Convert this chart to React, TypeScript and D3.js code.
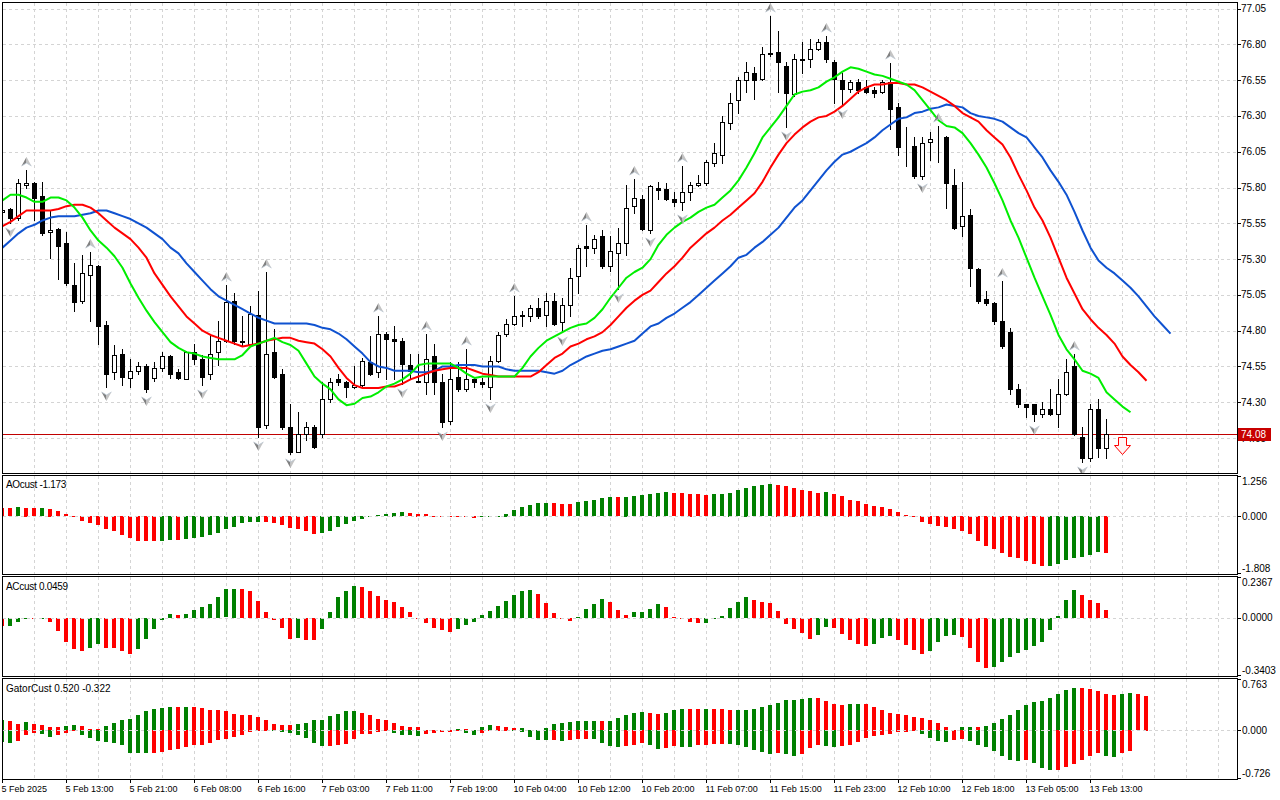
import React from 'react';
import * as d3 from 'd3';

// ---- price data (hourly bars) ----
const opens = [
  75.63, 75.65, 75.59, 75.82, 75.83, 75.74, 75.49, 75.51, 75.41, 75.12,
  75.01, 75.19, 75.25, 74.84, 74.51, 74.64, 74.47, 74.52, 74.55, 74.47,
  74.54, 74.62, 74.51, 74.46, 74.65, 74.60, 74.50, 74.65, 74.73, 75.01,
  74.72, 74.71, 74.91, 74.14, 74.65, 74.50, 74.13, 73.95, 74.08, 74.13,
  74.08, 74.32, 74.46, 74.44, 74.41, 74.42, 74.58, 74.51, 74.78, 74.74,
  74.73, 74.56, 74.45, 74.44, 74.62, 74.44, 74.17, 74.48, 74.39, 74.46,
  74.44, 74.41, 74.59, 74.78, 74.85, 74.90, 74.90, 74.96, 74.91, 75.01,
  74.86, 74.98, 75.18, 75.39, 75.38, 75.46, 75.25, 75.34, 75.41, 75.67,
  75.72, 75.50, 75.80, 75.79, 75.72, 75.70, 75.77, 75.82, 75.83, 75.97,
  76.03, 76.25, 76.41, 76.55, 76.60, 76.56, 76.73, 76.75, 76.65, 76.45,
  76.70, 76.70, 76.77, 76.82, 76.68, 76.55, 76.49, 76.54, 76.50, 76.48,
  76.47, 76.54, 76.36, 76.09, 76.09, 75.88, 76.12, 76.14, 76.15, 75.82,
  75.53, 75.61, 75.23, 75.02, 74.99, 74.87, 74.79, 74.39, 74.29, 74.29,
  74.22, 74.25, 74.22, 74.36, 74.55, 74.06, 73.91, 74.25, 73.98,
];
const highs = [
  75.68, 75.66, 75.86, 75.92, 75.84, 75.84, 75.64, 75.52, 75.49, 75.27,
  75.33, 75.35, 75.26, 74.87, 74.70, 74.67, 74.60, 74.58, 74.57, 74.58,
  74.65, 74.63, 74.53, 74.66, 74.71, 74.63, 74.77, 74.87, 75.12, 75.06,
  74.90, 74.97, 75.08, 75.21, 74.81, 74.53, 74.29, 74.23, 74.16, 74.14,
  74.44, 74.47, 74.50, 74.45, 74.55, 74.61, 74.76, 74.90, 74.79, 74.83,
  74.75, 74.64, 74.64, 74.78, 74.71, 74.50, 74.58, 74.58, 74.67, 74.48,
  74.47, 74.62, 74.79, 74.88, 75.04, 74.94, 74.98, 75.03, 75.06, 75.06,
  75.03, 75.24, 75.40, 75.54, 75.47, 75.50, 75.46, 75.52, 75.82, 75.86,
  75.75, 75.82, 75.84, 75.83, 75.77, 75.95, 75.84, 75.89, 75.99, 76.11,
  76.30, 76.46, 76.57, 76.68, 76.64, 76.78, 77.00, 76.89, 76.68, 76.73,
  76.82, 76.84, 76.84, 76.86, 76.69, 76.60, 76.55, 76.56, 76.55, 76.50,
  76.55, 76.67, 76.39, 76.22, 76.15, 76.15, 76.19, 76.23, 76.16, 75.93,
  75.84, 75.65, 75.24, 75.08, 75.00, 75.15, 74.82, 74.43, 74.29, 74.29,
  74.30, 74.39, 74.46, 74.60, 74.64, 74.13, 74.29, 74.32, 74.18,
];
const lows = [
  75.58, 75.55, 75.57, 75.80, 75.57, 75.47, 75.31, 75.16, 75.12, 74.94,
  74.99, 74.87, 74.71, 74.41, 74.46, 74.42, 74.41, 74.50, 74.37, 74.45,
  74.52, 74.47, 74.46, 74.46, 74.57, 74.42, 74.46, 74.56, 74.72, 74.71,
  74.70, 74.70, 74.06, 74.12, 74.47, 74.11, 73.94, 73.95, 74.04, 73.98,
  74.06, 74.30, 74.42, 74.34, 74.40, 74.41, 74.49, 74.48, 74.46, 74.46,
  74.43, 74.46, 74.44, 74.36, 74.36, 74.13, 74.15, 74.38, 74.38, 74.41,
  74.41, 74.32, 74.58, 74.76, 74.84, 74.83, 74.87, 74.89, 74.83, 74.84,
  74.79, 74.90, 75.06, 75.25, 75.34, 75.24, 75.22, 75.09, 75.33, 75.62,
  75.50, 75.48, 75.72, 75.71, 75.67, 75.64, 75.71, 75.81, 75.82, 75.95,
  75.97, 76.21, 76.32, 76.47, 76.42, 76.55, 76.72, 76.47, 76.22, 76.44,
  76.60, 76.64, 76.76, 76.68, 76.39, 76.38, 76.47, 76.46, 76.46, 76.43,
  76.46, 76.21, 76.03, 75.95, 75.87, 75.86, 75.99, 75.98, 75.66, 75.51,
  75.46, 75.11, 74.99, 74.98, 74.85, 74.68, 74.36, 74.27, 74.20, 74.17,
  74.20, 74.21, 74.13, 74.35, 74.07, 73.88, 73.89, 73.92, 73.91,
];
const closes = [
  75.64, 75.59, 75.83, 75.83, 75.73, 75.48, 75.50, 75.39, 75.13, 75.00,
  75.20, 75.26, 74.83, 74.50, 74.63, 74.48, 74.52, 74.55, 74.39, 74.54,
  74.62, 74.50, 74.47, 74.65, 74.60, 74.48, 74.64, 74.73, 75.00, 74.73,
  74.73, 74.92, 74.13, 74.64, 74.48, 74.13, 73.95, 74.08, 74.13, 73.99,
  74.32, 74.44, 74.44, 74.41, 74.42, 74.59, 74.50, 74.78, 74.74, 74.73,
  74.57, 74.52, 74.44, 74.60, 74.44, 74.16, 74.46, 74.39, 74.46, 74.44,
  74.43, 74.59, 74.77, 74.85, 74.90, 74.91, 74.96, 74.90, 75.01, 74.85,
  74.98, 75.17, 75.38, 75.38, 75.44, 75.25, 75.36, 75.41, 75.66, 75.73,
  75.51, 75.81, 75.78, 75.72, 75.70, 75.77, 75.82, 75.83, 75.98, 76.04,
  76.26, 76.39, 76.55, 76.61, 76.55, 76.73, 76.74, 76.68, 76.46, 76.70,
  76.69, 76.77, 76.82, 76.70, 76.56, 76.49, 76.54, 76.48, 76.47, 76.46,
  76.54, 76.35, 76.08, 76.09, 75.88, 76.11, 76.14, 76.14, 75.83, 75.52,
  75.60, 75.24, 75.01, 74.99, 74.87, 74.69, 74.39, 74.29, 74.27, 74.22,
  74.25, 74.22, 74.36, 74.51, 74.08, 73.91, 74.25, 73.98, 74.08,
];

// ---- alligator (already shifted forward as drawn) ----
const lips = [
  75.71, 75.75, 75.75, 75.73, 75.70, 75.70, 75.73, 75.73, 75.71, 75.66,
  75.59, 75.50, 75.43, 75.38, 75.32, 75.24, 75.13, 75.03, 74.94, 74.86,
  74.79, 74.72, 74.68, 74.65, 74.64, 74.62, 74.61, 74.60, 74.60, 74.60,
  74.63, 74.69, 74.71, 74.73, 74.75, 74.72, 74.70, 74.66, 74.57, 74.48,
  74.43, 74.39, 74.32, 74.28, 74.29, 74.33, 74.34, 74.37, 74.41, 74.43,
  74.46, 74.50, 74.56, 74.57, 74.57, 74.57, 74.57, 74.54, 74.50, 74.47,
  74.48, 74.48, 74.48, 74.48, 74.48, 74.54, 74.62, 74.68, 74.73, 74.76,
  74.79, 74.82, 74.84, 74.85, 74.89, 74.95, 75.03, 75.10, 75.17, 75.21,
  75.24, 75.30, 75.40, 75.47, 75.52, 75.56, 75.59, 75.63, 75.66, 75.68,
  75.73, 75.78, 75.85, 75.94, 76.04, 76.15, 76.22, 76.29, 76.37, 76.45,
  76.47, 76.48, 76.50, 76.54, 76.57, 76.61, 76.64, 76.63, 76.61, 76.59,
  76.58, 76.56, 76.54, 76.52, 76.48, 76.41, 76.34, 76.27, 76.23, 76.22,
  76.18, 76.11, 76.03, 75.94, 75.83, 75.71, 75.57, 75.45, 75.31, 75.17,
  75.04, 74.91, 74.77, 74.67, 74.60, 74.52, 74.50, 74.47, 74.37, 74.32,
  74.27, 74.23,
];
const teeth = [
  75.53, 75.56, 75.60, 75.64, 75.64, 75.64, 75.64, 75.65, 75.67, 75.68,
  75.68, 75.66, 75.62, 75.57, 75.52, 75.48, 75.44, 75.38, 75.31, 75.20,
  75.12, 75.04, 74.97, 74.90, 74.85, 74.80, 74.77, 74.75, 74.73, 74.71,
  74.69, 74.70, 74.71, 74.73, 74.74, 74.75, 74.75, 74.73, 74.72, 74.71,
  74.67, 74.62, 74.54, 74.47, 74.42, 74.40, 74.40, 74.40, 74.41, 74.41,
  74.43, 74.46, 74.48, 74.50, 74.52, 74.53, 74.54, 74.54, 74.54, 74.52,
  74.50, 74.49, 74.48, 74.48, 74.48, 74.48, 74.48, 74.51, 74.56, 74.61,
  74.64, 74.69, 74.71, 74.74, 74.76, 74.79, 74.84, 74.90, 74.96, 75.01,
  75.05, 75.08, 75.14, 75.20, 75.25, 75.31, 75.38, 75.43, 75.48, 75.52,
  75.57, 75.61, 75.66, 75.71, 75.76, 75.84, 75.94, 76.03, 76.11, 76.17,
  76.22, 76.26, 76.29, 76.30, 76.33, 76.37, 76.42, 76.47, 76.50, 76.52,
  76.52, 76.53, 76.53, 76.52, 76.52, 76.50, 76.47, 76.44, 76.41, 76.37,
  76.32, 76.29, 76.26, 76.20, 76.15, 76.10, 76.01, 75.89, 75.78, 75.66,
  75.57, 75.45, 75.31, 75.17, 75.06, 74.95, 74.88, 74.82, 74.77, 74.71,
  74.62, 74.56, 74.51, 74.45,
];
const jaw = [
  75.38, 75.43, 75.48, 75.52, 75.54, 75.57, 75.59, 75.60, 75.60, 75.60,
  75.61, 75.62, 75.64, 75.64, 75.62, 75.60, 75.58, 75.55, 75.52, 75.48,
  75.44, 75.38, 75.34, 75.27, 75.21, 75.15, 75.09, 75.04, 75.01, 74.98,
  74.95, 74.92, 74.89, 74.87, 74.85, 74.85, 74.85, 74.85, 74.85, 74.84,
  74.82, 74.81, 74.78, 74.74, 74.69, 74.64, 74.58, 74.55, 74.54, 74.52,
  74.52, 74.52, 74.51, 74.51, 74.52, 74.55, 74.55, 74.56, 74.56, 74.56,
  74.55, 74.55, 74.55, 74.53, 74.52, 74.52, 74.52, 74.52, 74.51, 74.50,
  74.52, 74.56, 74.59, 74.62, 74.64, 74.66, 74.67, 74.69, 74.71, 74.73,
  74.78, 74.83, 74.85, 74.89, 74.92, 74.96, 75.00, 75.05, 75.10, 75.15,
  75.20, 75.25, 75.31, 75.33, 75.38, 75.42, 75.47, 75.52, 75.59, 75.66,
  75.71, 75.78, 75.85, 75.92, 75.98, 76.03, 76.05, 76.08, 76.11, 76.15,
  76.20, 76.24, 76.28, 76.29, 76.32, 76.33, 76.35, 76.36, 76.38, 76.37,
  76.36, 76.32, 76.30, 76.29, 76.28, 76.26, 76.22, 76.18, 76.15, 76.08,
  76.01, 75.92, 75.84, 75.75, 75.63, 75.50, 75.38, 75.29, 75.24, 75.20,
  75.15, 75.10, 75.04, 74.97, 74.90, 74.84, 74.78,
];

const fractalUp = [3, 11, 28, 33, 47, 53, 58, 64, 73, 79, 85, 96, 103, 111, 117, 125, 134];
const fractalDown = [1, 13, 18, 25, 32, 36, 50, 55, 61, 70, 77, 81, 85, 98, 105, 115, 129, 135];

const lastPrice = 74.08;
const sellSignal = { bar: 140, price: 74.057 };

// ---- oscillators ----
const aoValues = [
  0.28, 0.27, 0.29, 0.28, 0.26, 0.27, 0.25, 0.16, 0.06, -0.04,
  -0.15, -0.23, -0.29, -0.41, -0.48, -0.61, -0.69, -0.79, -0.80, -0.81,
  -0.80, -0.77, -0.78, -0.75, -0.69, -0.67, -0.62, -0.54, -0.42, -0.34,
  -0.23, -0.19, -0.18, -0.19, -0.21, -0.29, -0.39, -0.42, -0.47, -0.58,
  -0.53, -0.47, -0.34, -0.27, -0.15, -0.09, -0.03, 0.03, 0.06, 0.12,
  0.125, 0.11, 0.085, 0.06, 0.02, -0.01, -0.03, -0.035, -0.04, -0.065,
  -0.03, -0.02, 0.01, 0.085, 0.19, 0.29, 0.35, 0.42, 0.425, 0.42,
  0.395, 0.385, 0.45, 0.49, 0.51, 0.585, 0.62, 0.615, 0.625, 0.65,
  0.68, 0.71, 0.755, 0.77, 0.735, 0.73, 0.725, 0.70, 0.68, 0.70,
  0.705, 0.755, 0.83, 0.92, 0.96, 0.99, 1.02, 1.015, 0.96, 0.92,
  0.85, 0.80, 0.73, 0.77, 0.70, 0.64, 0.53, 0.48, 0.38, 0.32,
  0.29, 0.22, 0.13, 0.03, -0.03, -0.18, -0.27, -0.31, -0.34, -0.415,
  -0.48, -0.585, -0.79, -0.95, -1.065, -1.17, -1.30, -1.35, -1.44, -1.52,
  -1.59, -1.585, -1.52, -1.42, -1.34, -1.32, -1.26, -1.16, -1.173,
];
const aoColors =
  'RRGRRGRRRR' + 'RRRRRRRRRR' + 'GGRGGGGGGG' + 'GGGRRRRRRR' + 'GGGGGGGGGG' +
  'GRRRRRRRRR' + 'GGGGGGGGGR' + 'RRGGGGGRGG' + 'GGGGRRRRRG' + 'GGGGGGGRRR' +
  'RRRGRRRRRR' + 'RRRRRRRRRR' + 'RRRRRRRRRR' + 'RGGGGGGGR';

const acValues = [
  -0.05, -0.046, -0.024, -0.002, -0.008, -0.002, -0.022, -0.075, -0.14, -0.185,
  -0.195, -0.177, -0.155, -0.177, -0.178, -0.195, -0.214, -0.185, -0.125, -0.063,
  -0.01, 0.022, 0.018, 0.024, 0.046, 0.067, 0.081, 0.125, 0.169, 0.173,
  0.172, 0.161, 0.101, 0.036, -0.01, -0.062, -0.125, -0.117, -0.131, -0.132,
  -0.065, 0.034, 0.125, 0.161, 0.19, 0.185, 0.161, 0.131, 0.107, 0.093,
  0.065, 0.032, -0.008, -0.028, -0.058, -0.071, -0.081, -0.063, -0.04, -0.022,
  0.018, 0.042, 0.073, 0.101, 0.137, 0.161, 0.167, 0.143, 0.089, 0.03,
  -0.008, -0.016, 0.006, 0.054, 0.083, 0.113, 0.095, 0.048, 0.018, 0.032,
  0.036, 0.054, 0.083, 0.065, 0.006, -0.004, -0.022, -0.032, -0.028, -0.008,
  0.012, 0.06, 0.095, 0.125, 0.107, 0.095, 0.089, 0.042, -0.034, -0.063,
  -0.089, -0.125, -0.101, -0.054, -0.058, -0.095, -0.129, -0.153, -0.165, -0.153,
  -0.117, -0.105, -0.129, -0.159, -0.188, -0.212, -0.194, -0.141, -0.105, -0.099,
  -0.111, -0.177, -0.26, -0.296, -0.29, -0.26, -0.23, -0.206, -0.188, -0.165,
  -0.141, -0.069, 0.012, 0.107, 0.167, 0.137, 0.107, 0.089, 0.0459,
];
const acColors =
  'RGGGRGRRRR' + 'RGGRRRRGGG' + 'GGRGGGGGGG' + 'RRRRRRRGRR' + 'GGGGGRRRRR' +
  'RRRRRRRGGG' + 'GGGGGGGRRR' + 'RRGGGGRRRG' + 'GGGRRRRRGG' + 'GGGGRRRRRR' +
  'RRGGRRRRRG' + 'GGRRRRGGGG' + 'RRRRGGGGGG' + 'GGGGGRRRR';

const gatorUpper = [
  0.15, 0.135, 0.1, 0.12, 0.1, 0.085, 0.045, 0.044, 0.07, 0.075,
  0.06, 0.02, 0.015, 0.06, 0.105, 0.15, 0.165, 0.235, 0.285, 0.32,
  0.34, 0.345, 0.344, 0.35, 0.345, 0.33, 0.31, 0.3, 0.285, 0.25,
  0.235, 0.225, 0.195, 0.15, 0.1, 0.085, 0.08, 0.1, 0.115, 0.15,
  0.16, 0.21, 0.25, 0.285, 0.29, 0.265, 0.225, 0.165, 0.15, 0.115,
  0.07, 0.05, 0.048, 0.01, 0.005, 0.005, 0.004, 0.015, 0.012, 0.005,
  0.045, 0.075, 0.06, 0.045, 0.03, 0.032, 0.01, 0.005, 0.03, 0.09,
  0.105, 0.12, 0.135, 0.136, 0.137, 0.135, 0.138, 0.18, 0.225, 0.255,
  0.27, 0.255, 0.24, 0.255, 0.3, 0.315, 0.314, 0.313, 0.316, 0.315,
  0.314, 0.3, 0.302, 0.303, 0.315, 0.345, 0.375, 0.405, 0.45, 0.451,
  0.465, 0.48, 0.478, 0.435, 0.39, 0.375, 0.39, 0.391, 0.39, 0.345,
  0.3, 0.255, 0.24, 0.225, 0.195, 0.18, 0.15, 0.105, 0.045, 0.005,
  0.045, 0.046, 0.045, 0.065, 0.105, 0.165, 0.225, 0.3, 0.375, 0.42,
  0.435, 0.48, 0.54, 0.6, 0.63, 0.629, 0.615, 0.585, 0.54, 0.525,
  0.54, 0.555, 0.54, 0.52,
];
const gatorUpperColors =
  'GRRGRRRRGG' + 'RRRGGGGGGG' + 'GGRGRRRRRR' + 'RRRRRRRGGG' + 'GGGGGRRRRR' +
  'RRRRRRRGRR' + 'GGRRRGRRGG' + 'GGGGGRGGGG' + 'GRRGGGRRGR' + 'RRGGGGGGGG' +
  'GGRRRRGGRR' + 'RRRRRRRRRR' + 'GGRGGGGGGG' + 'GGGGGRRRRR' + 'GGRR';

const gatorLower = [
  -0.175, -0.19, -0.16, -0.08, -0.05, -0.055, -0.1, -0.08, -0.04, -0.015,
  -0.07, -0.115, -0.165, -0.175, -0.2, -0.22, -0.34, -0.345, -0.35, -0.34,
  -0.325, -0.3, -0.28, -0.25, -0.225, -0.224, -0.19, -0.15, -0.13, -0.11,
  -0.075, -0.025, -0.01, -0.005, -0.015, -0.03, -0.05, -0.07, -0.12, -0.19,
  -0.24, -0.235, -0.23, -0.21, -0.135, -0.06, -0.055, -0.025, -0.005, -0.04,
  -0.075, -0.08, -0.09, -0.065, -0.045, -0.025, -0.025, -0.01, -0.04, -0.07,
  -0.04, -0.01, -0.008, -0.005, -0.012, -0.025, -0.1, -0.15, -0.152, -0.15,
  -0.165, -0.15, -0.135, -0.13, -0.135, -0.195, -0.24, -0.255, -0.24, -0.225,
  -0.195, -0.225, -0.285, -0.27, -0.24, -0.255, -0.256, -0.225, -0.224, -0.21,
  -0.209, -0.21, -0.225, -0.255, -0.3, -0.33, -0.36, -0.345, -0.36, -0.39,
  -0.36, -0.27, -0.225, -0.24, -0.255, -0.24, -0.225, -0.18, -0.12, -0.09,
  -0.075, -0.06, -0.03, -0.025, -0.003, -0.06, -0.12, -0.165, -0.18, -0.15,
  -0.135, -0.165, -0.225, -0.255, -0.315, -0.39, -0.45, -0.465, -0.45, -0.495,
  -0.57, -0.6, -0.598, -0.555, -0.51, -0.45, -0.39, -0.345, -0.39, -0.405,
  -0.345, -0.322,
];
const gatorLowerColors =
  'GGRRRGGRRR' + 'GGGGGGGGGR' + 'RRRRRRRRRR' + 'RRRRGGGGGG' + 'GRRRRRRRRG' +
  'GGGRRRRRGG' + 'RRRRGGGGGR' + 'GRRRGGGGRR' + 'RGGRRGGRRR' + 'RGGGGGGRGG' +
  'RRRGGRRRRR' + 'RRRRRGGGGR' + 'RGGGGGGGRG' + 'GGRRRRRRGG' + 'RR';

// ---- axes ----
const priceTicks = [77.05, 76.8, 76.55, 76.3, 76.05, 75.8, 75.55, 75.3, 75.05, 74.8, 74.55, 74.3, 74.05];
const timeLabels = [
  '5 Feb 2025', '5 Feb 13:00', '5 Feb 21:00', '6 Feb 08:00', '6 Feb 16:00', '7 Feb 03:00',
  '7 Feb 11:00', '7 Feb 19:00', '10 Feb 04:00', '10 Feb 12:00', '10 Feb 20:00', '11 Feb 07:00',
  '11 Feb 15:00', '11 Feb 23:00', '12 Feb 10:00', '12 Feb 18:00', '13 Feb 05:00', '13 Feb 13:00',
];

// ---- layout ----
const LEFT = 3;
const RIGHT = 1237;
const panels = {
  main: { top: 3, bottom: 473 },
  ao: { top: 476, bottom: 574 },
  ac: { top: 577, bottom: 676 },
  gator: { top: 679, bottom: 779 },
};
const GREEN = '#008000';
const RED = '#ff0000';
const GRID = '#d4d4d4';
const FONT = "'Liberation Sans', Arial, sans-serif";

const x = d3.scaleLinear().domain([0, 138]).range([2, 1106]);
const yMain = d3.scaleLinear().domain([73.806, 77.089]).range([473, 3]);
const yAO = d3.scaleLinear().domain([-1.808, 1.256]).range([573, 477]);
const yAC = d3.scaleLinear().domain([-0.3403, 0.2367]).range([675, 578]);
const yGator = d3.scaleLinear().domain([-0.726, 0.763]).range([778.5, 679.5]);

const px = (v: number) => Math.round(v) + 0.5;

const Histogram = ({ values, colors, y }: { values: number[]; colors: string; y: d3.ScaleLinear<number, number> }) => {
  const y0 = y(0);
  return (
    <g>
      {values.map((v, i) => {
        const yv = y(v);
        const top = Math.round(Math.min(y0, yv));
        const h = Math.max(1, Math.round(Math.abs(yv - y0)));
        return <rect key={i} x={x(i) - 2} y={top} width={4} height={h} fill={colors[i] === 'G' ? GREEN : RED} />;
      })}
    </g>
  );
};

const VerticalGrid = ({ top, bottom }: { top: number; bottom: number }) => {
  const lines: number[] = [];
  for (let i = 4; x(i) < RIGHT; i += 4) lines.push(i);
  return (
    <g>
      {lines.map(i => (
        <line key={i} x1={x(i) + 0.5} x2={x(i) + 0.5} y1={top} y2={bottom} stroke={GRID} strokeDasharray="3,3" />
      ))}
    </g>
  );
};

const ZeroLine = ({ y }: { y: d3.ScaleLinear<number, number> }) => (
  <line x1={LEFT} x2={RIGHT} y1={px(y(0))} y2={px(y(0))} stroke={GRID} strokeDasharray="3,3" />
);

const Candles = () => (
  <g>
    {opens.map((o, i) => {
      const c = closes[i];
      const cx = x(i) + 0.5;
      const yTop = px(yMain(Math.max(o, c)));
      const yBot = px(yMain(Math.min(o, c)));
      const bull = c >= o;
      return (
        <g key={i}>
          <line x1={cx} x2={cx} y1={Math.round(yMain(highs[i]))} y2={Math.round(yMain(lows[i])) + 1} stroke="#000" />
          <rect x={x(i) - 1.5} y={yTop} width={4} height={yBot - yTop} fill={bull ? '#fff' : '#000'} stroke="#000" />
        </g>
      );
    })}
  </g>
);

const FractalArrow = ({ bar, up }: { bar: number; up: boolean }) => {
  const cx = x(bar) + 0.5;
  const tip = up ? Math.round(yMain(highs[bar])) - 13 : Math.round(yMain(lows[bar])) + 14;
  const d = up ? 1 : -1;
  return (
    <g transform={`translate(${cx},${tip})`}>
      <path d={`M0,0 L-5,${9 * d} L0,${6 * d} Z`} fill="#808080" />
      <path d={`M0,0 L5,${9 * d} L0,${6 * d} Z`} fill="#c4c4c4" />
      <path d={`M-5,${9 * d} L0,${6 * d} L5,${9 * d}`} fill="none" stroke="#b8c4d0" strokeWidth={0.8} />
    </g>
  );
};

const AlligatorLine = ({ values, color }: { values: number[]; color: string }) => {
  const line = d3.line<number>().x((_, i) => x(i) + 0.5).y(d => yMain(d));
  return <path d={line(values) || ''} fill="none" stroke={color} strokeWidth={2} strokeLinejoin="round" />;
};

const PanelScale = ({ top, bottom, y, labels }: { top: number; bottom: number; y: d3.ScaleLinear<number, number>; labels: string[] }) => {
  const zy = y(0);
  const rows = [
    { ty: top + 8.5, tick: top + 0.5, text: labels[0] },
    { ty: zy + 3.5, tick: px(zy), text: labels[1] },
    { ty: bottom - 2, tick: bottom - 0.5, text: labels[2] },
  ];
  return (
    <g>
      {rows.map((r, k) => (
        <g key={k}>
          <line x1={RIGHT} x2={RIGHT + 4} y1={r.tick} y2={r.tick} stroke="#000" />
          <text x={1242} y={r.ty} fontSize={10} fontFamily={FONT} fill="#000">{r.text}</text>
        </g>
      ))}
    </g>
  );
};

export default function App() {
  const sx = x(sellSignal.bar) + 0.5;
  const sy = Math.round(yMain(sellSignal.price)) + 0.5;
  const lastY = px(yMain(lastPrice));
  return (
    <div style={{ width: 1280, height: 800 }}>
      <style>{'body{margin:0;background:#fff}'}</style>
      <svg width={1280} height={800} style={{ display: 'block', background: '#fff' }}>
        <defs>
          <clipPath id="clipMain"><rect x={LEFT} y={panels.main.top} width={RIGHT - LEFT} height={panels.main.bottom - panels.main.top} /></clipPath>
          <clipPath id="clipAO"><rect x={LEFT} y={panels.ao.top} width={RIGHT - LEFT} height={panels.ao.bottom - panels.ao.top} /></clipPath>
          <clipPath id="clipAC"><rect x={LEFT} y={panels.ac.top} width={RIGHT - LEFT} height={panels.ac.bottom - panels.ac.top} /></clipPath>
          <clipPath id="clipGator"><rect x={LEFT} y={panels.gator.top} width={RIGHT - LEFT} height={panels.gator.bottom - panels.gator.top} /></clipPath>
        </defs>

        {/* main price panel */}
        <g clipPath="url(#clipMain)">
          <VerticalGrid top={panels.main.top} bottom={panels.main.bottom} />
          {priceTicks.map(t => (
            <line key={t} x1={LEFT} x2={RIGHT} y1={px(yMain(t))} y2={px(yMain(t))} stroke={GRID} strokeDasharray="3,3" />
          ))}
          <line x1={LEFT} x2={RIGHT} y1={lastY} y2={lastY} stroke="#c00000" />
          <Candles />
          <AlligatorLine values={jaw} color="#0f52d0" />
          <AlligatorLine values={teeth} color="#ff0000" />
          <AlligatorLine values={lips} color="#00ee00" />
          {fractalUp.map(b => <FractalArrow key={'u' + b} bar={b} up />)}
          {fractalDown.map(b => <FractalArrow key={'d' + b} bar={b} up={false} />)}
          <path
            d={`M${sx - 4},${sy} H${sx + 4} V${sy + 8} H${sx + 8} L${sx},${sy + 17} L${sx - 8},${sy + 8} H${sx - 4} Z`}
            fill="#fff4f4" stroke="#ff0000" strokeWidth={1}
          />
        </g>

        {/* AO */}
        <g clipPath="url(#clipAO)">
          <VerticalGrid top={panels.ao.top} bottom={panels.ao.bottom} />
          <Histogram values={aoValues} colors={aoColors} y={yAO} />
          <ZeroLine y={yAO} />
        </g>

        {/* AC */}
        <g clipPath="url(#clipAC)">
          <VerticalGrid top={panels.ac.top} bottom={panels.ac.bottom} />
          <Histogram values={acValues} colors={acColors} y={yAC} />
          <ZeroLine y={yAC} />
        </g>

        {/* Gator */}
        <g clipPath="url(#clipGator)">
          <VerticalGrid top={panels.gator.top} bottom={panels.gator.bottom} />
          <Histogram values={gatorUpper} colors={gatorUpperColors} y={yGator} />
          <Histogram values={gatorLower} colors={gatorLowerColors} y={yGator} />
          <ZeroLine y={yGator} />
        </g>

        {/* panel frames */}
        {Object.entries(panels).map(([k, p]) => (
          <rect key={k} x={LEFT - 0.5} y={p.top - 0.5} width={RIGHT - LEFT + 1} height={p.bottom - p.top + 1} fill="none" stroke="#000" />
        ))}

        {/* panel titles */}
        <text x={6} y={488} fontSize={10} fontFamily={FONT} letterSpacing={-0.3}>AOcust -1.173</text>
        <text x={6} y={590} fontSize={10} fontFamily={FONT} letterSpacing={-0.3}>ACcust 0.0459</text>
        <text x={6} y={692} fontSize={10} fontFamily={FONT}>GatorCust 0.520 -0.322</text>

        {/* price axis; the current price box sits over the 74.05 label as in the terminal */}
        {priceTicks.map(t => (
          <g key={t}>
            <line x1={RIGHT} x2={RIGHT + 4} y1={px(yMain(t))} y2={px(yMain(t))} stroke="#000" />
            <text x={1241} y={yMain(t) + 3.5} fontSize={10} fontFamily={FONT}>{t.toFixed(2)}</text>
          </g>
        ))}
        <rect x={1238} y={lastY - 6.5} width={33} height={13} fill="#c80000" />
        <text x={1241} y={lastY + 3.5} fontSize={10} fontFamily={FONT} fill="#fff">{lastPrice.toFixed(2)}</text>

        <PanelScale top={panels.ao.top} bottom={panels.ao.bottom} y={yAO} labels={['1.256', '0.000', '-1.808']} />
        <PanelScale top={panels.ac.top} bottom={panels.ac.bottom} y={yAC} labels={['0.2367', '0.0000', '-0.3403']} />
        <PanelScale top={panels.gator.top} bottom={panels.gator.bottom} y={yGator} labels={['0.763', '0.000', '-0.726']} />

        {/* time axis */}
        {timeLabels.map((t, k) => {
          const bx = x(k * 8) + 0.5;
          return (
            <g key={t}>
              <line x1={bx} x2={bx} y1={panels.gator.bottom} y2={panels.gator.bottom + 4} stroke="#000" />
              <text x={bx - 1} y={792} fontSize={9} fontFamily={FONT}>{t}</text>
            </g>
          );
        })}
      </svg>
    </div>
  );
}
